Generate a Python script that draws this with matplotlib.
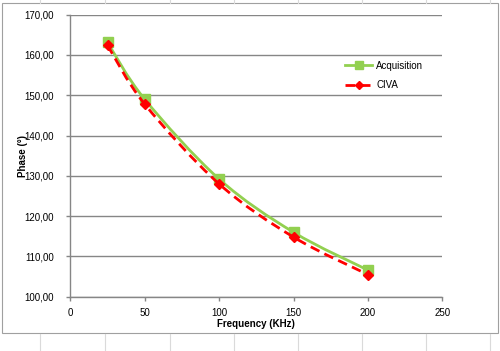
import numpy as np
import matplotlib.pyplot as plt
from matplotlib.path import Path
from matplotlib.patches import PathPatch, Rectangle
from matplotlib.lines import Line2D
from matplotlib.ticker import FuncFormatter

# Données
frequence = [25, 50, 100, 150, 200]
phase_acquisition = [163.1, 149.0, 129.2, 116.0, 106.6]
phase_civa = [162.4, 147.8, 128.0, 114.8, 105.5]

vert = '#92d050'
rouge = '#ff0000'
gris = '#868686'

plt.rcParams['font.family'] = ['Liberation Sans', 'DejaVu Sans']


def courbe_lissee(x, y):
    # courbe de Bézier type "ligne lissée" Excel (Catmull-Rom)
    pts = np.column_stack([x, y]).astype(float)
    verts = [pts[0]]
    codes = [Path.MOVETO]
    n = len(pts)
    for i in range(n - 1):
        p0 = pts[i - 1] if i > 0 else pts[i]
        p1 = pts[i]
        p2 = pts[i + 1]
        p3 = pts[i + 2] if i + 2 < n else pts[i + 1]
        c1 = p1 + (p2 - p0) / 6
        c2 = p2 - (p3 - p1) / 6
        verts += [c1, c2, p2]
        codes += [Path.CURVE4] * 3
    return Path(verts, codes)


fig = plt.figure(figsize=(5, 3.51), dpi=100)

# lignes de la feuille de calcul en arrière-plan
for xp in [40, 105, 170, 234, 298, 362, 426, 490]:
    fig.add_artist(Line2D([xp / 500, xp / 500], [1, 1 - 3 / 351], color='#dadada', lw=0.8))
    fig.add_artist(Line2D([xp / 500, xp / 500], [0, 1 - 334 / 351], color='#dadada', lw=0.8))
# cadre du graphique
fig.add_artist(Rectangle((2 / 500, 1 - 333 / 351), 496 / 500, 330 / 351, fill=False,
                         edgecolor='#a0a0a0', lw=0.8, transform=fig.transFigure))

ax = fig.add_axes([70.3 / 500, 1 - 296.7 / 351, 372 / 500, 282 / 351])

ax.add_patch(PathPatch(courbe_lissee(frequence, phase_acquisition), fill=False,
                       edgecolor=vert, lw=2.0, zorder=3))
ax.add_patch(PathPatch(courbe_lissee(frequence, phase_civa), fill=False,
                       edgecolor=rouge, lw=2.0, linestyle=(0, (3.5, 2)), zorder=4))
ax.plot(frequence, phase_acquisition, 's', color=vert, ms=6.5, zorder=3)
ax.plot(frequence, phase_civa, 'D', color=rouge, ms=5, zorder=4)

# légende
h1 = Line2D([], [], color=vert, lw=2.0, marker='s', ms=6)
h2 = Line2D([], [], color=rouge, lw=2.0, ls=(0, (3.5, 2)), marker='D', ms=4.5)
ax.legend([h1, h2], ['Acquisition', 'CIVA'], loc='upper left',
          bbox_to_anchor=(0.715, 0.868), frameon=False, fontsize=7,
          handlelength=2.8, handletextpad=0.4, labelspacing=0.95)

ax.set_xlim(0, 250)
ax.set_ylim(100, 170)
ax.set_xticks([0, 50, 100, 150, 200, 250])
ax.set_yticks(np.arange(100, 171, 10))
ax.yaxis.set_major_formatter(FuncFormatter(lambda v, p: f'{v:.2f}'.replace('.', ',')))

ax.grid(axis='y', color=gris, lw=1.0)
ax.set_axisbelow(True)
for s in ['top', 'right']:
    ax.spines[s].set_visible(False)
for s in ['left', 'bottom']:
    ax.spines[s].set_color(gris)
    ax.spines[s].set_linewidth(1.0)
ax.tick_params(axis='both', colors=gris, labelcolor='black', labelsize=7, length=3, width=1.0)
ax.tick_params(axis='y', pad=9)
ax.tick_params(axis='x', pad=5)

ax.set_xlabel('Frequency (KHz)', fontsize=7, fontweight='bold', labelpad=1)
ax.set_ylabel('Phase (°)', fontsize=7, fontweight='bold', labelpad=-3)

plt.savefig('out.png', dpi=100)
print("Graphique enregistré sous 'out.png'")
